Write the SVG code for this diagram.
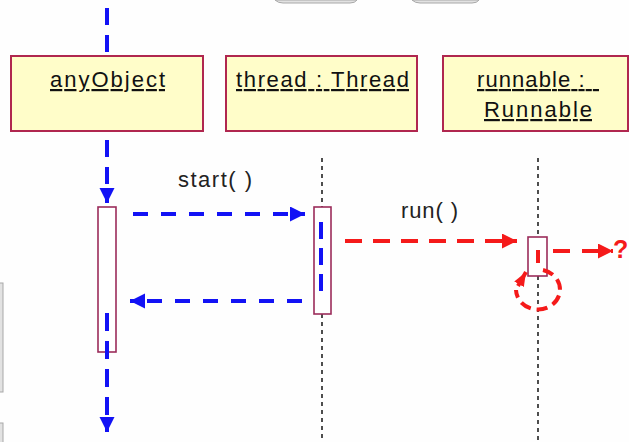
<svg xmlns="http://www.w3.org/2000/svg" width="629" height="442" viewBox="0 0 629 442">
<style>
.node{fill:#FFFDC9;stroke:#B0274F;stroke-width:2}
.act{fill:#FFFFFF;stroke:#9B2C5A;stroke-width:1.6}
.lbl{font-family:"Liberation Sans",Arial,sans-serif;font-size:22px;fill:#111;text-decoration:underline}
.msg{font-family:"Liberation Sans",Arial,sans-serif;font-size:22px;fill:#222}
.life{stroke:#222;stroke-width:1.6;stroke-dasharray:4 4;fill:none}
.blue{stroke:#1212F5;stroke-width:4;fill:none}
.red{stroke:#F51A1A;stroke-width:4;fill:none}
.art{fill:#E2E2E2;stroke:#A8A8A8;stroke-width:1}
</style>
<defs>
<marker id="ab" markerUnits="userSpaceOnUse" markerWidth="16" markerHeight="16" refX="15" refY="7.5" orient="auto">
<path d="M0,0 L15,7.5 L0,15 z" fill="#1212F5"/>
</marker>
<marker id="ar" markerUnits="userSpaceOnUse" markerWidth="16" markerHeight="16" refX="15" refY="7.5" orient="auto">
<path d="M0,0 L15,7.5 L0,15 z" fill="#F51A1A"/>
</marker>
<marker id="ars" markerUnits="userSpaceOnUse" markerWidth="15" markerHeight="12" refX="14" refY="5.5" orient="auto">
<path d="M0,0 L14,5.5 L0,11 z" fill="#F51A1A"/>
</marker>
</defs>
<rect width="629" height="442" fill="#FEFEFE"/>
<g id="artifacts">
<path class="art" d="M275,0 Q278,3 283,3 L350,3 Q355,3 357,0 z"/>
<path class="art" d="M412,0 Q415,3 420,3 L472,3 Q477,3 479,0 z"/>
<rect class="art" x="-1" y="283" width="4" height="109"/>
<rect class="art" x="-1" y="423" width="4" height="20"/>
</g>
<g id="lifelines">
<path class="life" d="M322,158 L322,207 M322,314 L322,442"/>
<path class="life" d="M538,158 L538,237 M538,276 L538,442"/>
</g>
<g id="node-anyObject">
<rect class="node" x="11" y="56" width="192" height="75"/>
<text class="lbl" x="50" y="87" textLength="115" lengthAdjust="spacing">anyObject</text>
</g>
<g id="node-thread">
<rect class="node" x="226" y="56" width="191" height="75"/>
<text class="lbl" x="236" y="87" textLength="173" lengthAdjust="spacing">thread : Thread</text>
</g>
<g id="node-runnable">
<rect class="node" x="443" y="56" width="185" height="75"/>
<text class="lbl" x="477" y="87" textLength="122" lengthAdjust="spacing" xml:space="preserve">runnable :  </text>
<text class="lbl" x="484" y="117" textLength="108" lengthAdjust="spacing">Runnable</text>
</g>
<g id="activations">
<rect class="act" x="98" y="207" width="18" height="145"/>
<rect class="act" x="314" y="207" width="17" height="107"/>
<rect class="act" x="528" y="237" width="19" height="39"/>
</g>
<g id="connectors">
<path class="blue" d="M107,8 L107,56" stroke-dasharray="17 10"/>
<path class="blue" d="M107,140 L107,203" stroke-dasharray="17 10" marker-end="url(#ab)"/>
<path class="blue" d="M133,214 L305,214" stroke-dasharray="15 13" marker-end="url(#ab)"/>
<path class="blue" d="M321,222 L321,295" stroke-dasharray="17 9"/>
<path class="blue" d="M302,301 L130,301" stroke-dasharray="15 13" marker-end="url(#ab)"/>
<path class="blue" d="M107,313 L107,432" stroke-dasharray="18 10" marker-end="url(#ab)"/>
<path class="red" d="M345,241 L517,241" stroke-dasharray="17 11" marker-end="url(#ar)"/>
<path class="red" d="M538,250 L538,263"/>
<path class="red" d="M553,251 L613,251" stroke-dasharray="17 12" marker-end="url(#ar)"/>
<path class="red" d="M543,270 A22,20 0 1 1 516,290" stroke-dasharray="11 6"/>
<path class="red" d="M518,286 L526,272" marker-end="url(#ars)"/>
</g>
<g id="labels">
<text class="msg" x="178" y="187" textLength="74" lengthAdjust="spacing">start( )</text>
<text class="msg" x="401" y="218" textLength="57" lengthAdjust="spacing">run( )</text>
<text class="msg" x="613" y="258" style="fill:#F51A1A;font-size:25px;font-weight:bold">?</text>
</g>
</svg>
